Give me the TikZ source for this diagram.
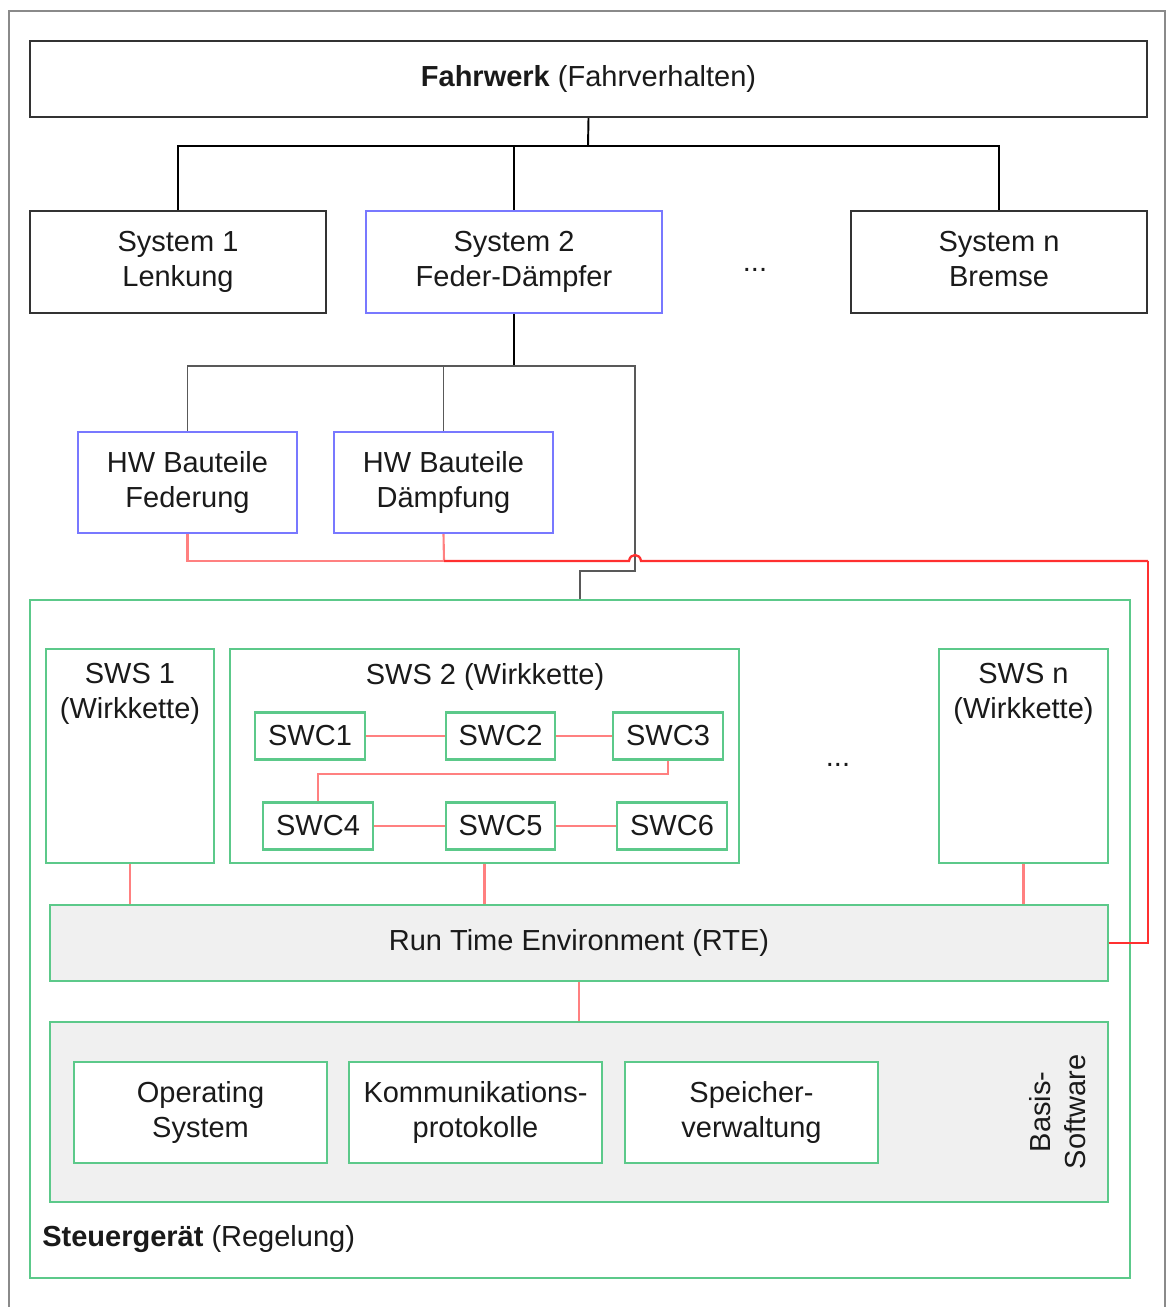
\documentclass[tikz,border=0pt]{standalone}
\usepackage{fontspec}
\setmainfont{Liberation Sans}
\begin{document}
\definecolor{txtc}{HTML}{1A1A1A}
\definecolor{boxk}{HTML}{333333}
\definecolor{boxb}{HTML}{7878FF}
\definecolor{boxg}{HTML}{5CC98A}
\definecolor{lred}{HTML}{FF8080}
\definecolor{hred}{HTML}{FF3030}
\definecolor{fillg}{HTML}{F0F0F0}
\definecolor{frameg}{HTML}{8A8A8A}
\begin{tikzpicture}[x=0.02cm,y=-0.02cm,
  every node/.style={font=\fontsize{16.5}{20}\selectfont, text=txtc, inner sep=0pt, align=center},
  kbox/.style={draw=boxk, line width=1.2pt, rectangle},
  bbox/.style={draw=boxb, line width=1.2pt, rectangle},
  gbox/.style={draw=boxg, line width=1.2pt, rectangle, fill=white},
  graybox/.style={draw=boxg, line width=1.2pt, rectangle, fill=fillg},
  wide/.style={minimum width=#1*0.02cm},
  tall/.style={minimum height=#1*0.02cm},
  tree/.style={draw=black, line width=1.1pt},
  treeg/.style={draw=black!65, line width=1.1pt},
  lredline/.style={draw=lred, line width=1.2pt},
  hredline/.style={draw=hred, line width=1.3pt}]
\useasboundingbox (0,0) rectangle (1167,1307);
% outer frame
\draw[frameg, line width=1.4pt] (9,1307) -- (9,11) -- (1165,11) -- (1165,1307);

% top level
\node[kbox, wide=1117, tall=76] (fw) at (588.5,79) {\textbf{Fahrwerk} (Fahrverhalten)};
\node[kbox, wide=296, tall=102] (s1) at (178,262) {System 1\\Lenkung};
\node[bbox, wide=296, tall=102] (s2) at (514,262) {System 2\\Feder-Dämpfer};
\node (dots1) at (755,270) {...};
\node[kbox, wide=296, tall=102] (sn) at (999,262) {System n\\Bremse\vphantom{g}};

\coordinate (j1) at (588,146);
\draw[tree] (fw.south) -- (j1);
\draw[tree] (s1.north) |- (j1) -| (sn.north);
\draw[tree] (j1) -| (s2.north);

% hardware components
\node[bbox, wide=219, tall=101] (hw1) at (187.5,482.5) {HW Bauteile\\Federung};
\node[bbox, wide=219, tall=101] (hw2) at (443.5,482.5) {HW Bauteile\\Dämpfung};

% control unit
\node[gbox, wide=1100, tall=678] (sg) at (580,939) {};
\node[anchor=west] (sgt) at (42,1239) {\textbf{Steuergerät} (Regelung)};

\coordinate (j2) at (514,366);
\coordinate (j3) at (635,366);
\coordinate (j4) at (635,571);
\draw[tree, line width=1.4pt] (s2.south) -- (j2);
\draw[treeg] (hw1.north) |- (j2) -- (j3) -- (j4) -| (sg.north);
\draw[treeg] (hw2.north) -- (hw2.north |- j2);

% signal lines from the hardware towards the RTE
\coordinate (r1) at (444,561);
\coordinate (r2) at (1148,561);
\draw[lredline] (hw1.south) |- (r1);
\draw[lredline] (hw2.south) -- (r1);
\draw[hredline] (r1) -- (629,561) .. controls (630,553) and (640,553) .. (641,561) -- (r2);

% software systems
\node[gbox, wide=168, tall=214] (sws1) at (130,756) {};
\node (sws1t) at (130,694) {SWS 1\\(Wirkkette)};
\node[gbox, wide=509, tall=214] (sws2) at (484.5,756) {};
\node (sws2t) at (485,677) {SWS 2 (Wirkkette)};
\node[gbox, wide=169, tall=214] (swsn) at (1023.5,756) {};
\node (swsnt) at (1023.5,694) {SWS n\\(Wirkkette)};
\node (dots2) at (838,765) {...};

\node[gbox, wide=110, tall=47] (swc1) at (310,736) {SWC1};
\node[gbox, wide=109, tall=47] (swc2) at (500.5,736) {SWC2};
\node[gbox, wide=110, tall=47] (swc3) at (668,736) {SWC3};
\node[gbox, wide=110, tall=47] (swc4) at (318,826) {SWC4};
\node[gbox, wide=109, tall=47] (swc5) at (500.5,826) {SWC5};
\node[gbox, wide=110, tall=47] (swc6) at (672,826) {SWC6};

\draw[lredline] (swc1) -- (swc2);
\draw[lredline] (swc2) -- (swc3);
\coordinate (k1) at (668,774);
\draw[lredline] (swc3.south) -- (k1) -| (swc4.north);
\draw[lredline] (swc4) -- (swc5);
\draw[lredline] (swc5) -- (swc6);

% runtime environment and basic software
\node[graybox, wide=1058, tall=76] (rte) at (579,943) {Run Time Environment (RTE)};
\node[graybox, wide=1058, tall=180] (bsw) at (579,1112) {};
\node[rotate=90] (bswt) at (1058,1112) {Basis-\\Software};
\node[gbox, wide=253, tall=101] (os) at (200.5,1112.5) {Operating\\System};
\node[gbox, wide=253, tall=101] (kp) at (475.5,1112.5) {Kommunikations-\\protokolle};
\node[gbox, wide=253, tall=101] (sv) at (751.5,1112.5) {Speicher-\\verwaltung};

\draw[lredline] (sws1.south) -- (sws1.south |- rte.north);
\draw[lredline] (sws2.south) -- (sws2.south |- rte.north);
\draw[lredline] (swsn.south) -- (swsn.south |- rte.north);
\draw[lredline] (rte.south) -- (bsw.north);
\draw[hredline] (r2) |- (rte.east);
\end{tikzpicture}
\end{document}
